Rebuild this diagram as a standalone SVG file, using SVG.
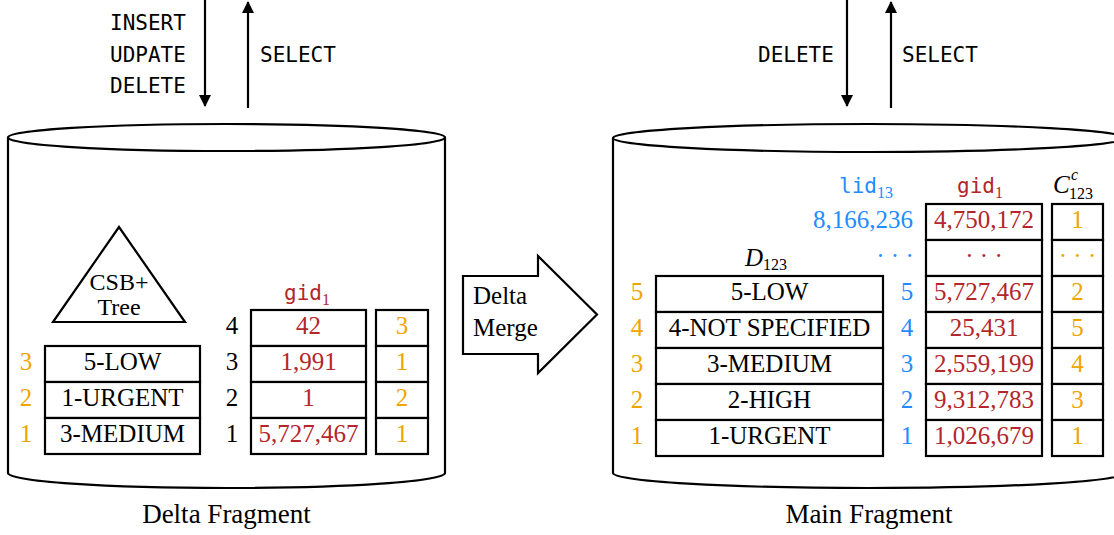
<svg xmlns="http://www.w3.org/2000/svg" width="1114" height="535" viewBox="0 0 1114 535">
<defs>
<marker id="ah" markerUnits="userSpaceOnUse" markerWidth="12" markerHeight="14" refX="11" refY="6" orient="auto">
<path d="M0,0 L12,6 L0,12 Z" fill="#000"/>
</marker>
<style>
.cyl{fill:#fff;stroke:#000;stroke-width:2.2}
.box{fill:#fff;stroke:#000;stroke-width:2.2}
.ln{stroke:#000;stroke-width:2.2;fill:none}
.mono{font-family:"DejaVu Sans Mono",monospace;font-size:21px}
.cmd{font-family:"DejaVu Sans Mono",monospace;font-size:21px;fill:#000}
.sr{font-family:"Liberation Serif",serif;font-size:25px;fill:#000}
.tr{font-family:"Liberation Serif",serif;font-size:24px;fill:#000}
.c{text-anchor:middle}
.e{text-anchor:end}
.sub{font-family:"Liberation Serif",serif;font-size:16px}
.it{font-style:italic}
.red{fill:#b3262b}
.blue{fill:#1f8cff}
.org{fill:#f0a500}
.lbl{font-family:"Liberation Serif",serif;font-size:27px;fill:#000;text-anchor:middle}
</style>
</defs>

<g id="connectors">
<line class="ln" x1="205" y1="0" x2="205" y2="106" marker-end="url(#ah)"/>
<line class="ln" x1="248" y1="108" x2="248" y2="2" marker-end="url(#ah)"/>
<line class="ln" x1="847" y1="0" x2="847" y2="106" marker-end="url(#ah)"/>
<line class="ln" x1="891" y1="108" x2="891" y2="2" marker-end="url(#ah)"/>
<text class="cmd" x="110" y="30">INSERT</text>
<text class="cmd" x="110" y="62">UDPATE</text>
<text class="cmd" x="110" y="93">DELETE</text>
<text class="cmd" x="260" y="62">SELECT</text>
<text class="cmd" x="758" y="62">DELETE</text>
<text class="cmd" x="902" y="62">SELECT</text>
</g>

<g id="delta-fragment">
<path class="cyl" d="M8,137.5 V473 A218.5,15 0 0 0 445,473 V137.5"/>
<ellipse class="cyl" cx="226.5" cy="137.5" rx="218.5" ry="13.5"/>
<text class="lbl" x="226.5" y="523">Delta Fragment</text>
</g>

<g id="csb-tree">
<polygon class="box" points="119,227 53,322 185,322"/>
<text class="tr c" x="119" y="290">CSB+</text>
<text class="tr c" x="119" y="315">Tree</text>
</g>

<g id="delta-dict">
<rect class="box" x="45" y="346" width="155" height="36"/>
<rect class="box" x="45" y="382" width="155" height="36"/>
<rect class="box" x="45" y="418" width="155" height="36"/>
<text class="sr c" x="122.5" y="370">5-LOW</text>
<text class="sr c" x="122.5" y="406">1-URGENT</text>
<text class="sr c" x="122.5" y="442">3-MEDIUM</text>
<text class="sr c org" x="26" y="370">3</text>
<text class="sr c org" x="26" y="406">2</text>
<text class="sr c org" x="26" y="442">1</text>
</g>

<g id="delta-gid">
<text class="mono red" x="284" y="300">gid<tspan class="sub" dy="5">1</tspan></text>
<rect class="box" x="251" y="310" width="115" height="36"/>
<rect class="box" x="251" y="346" width="115" height="36"/>
<rect class="box" x="251" y="382" width="115" height="36"/>
<rect class="box" x="251" y="418" width="115" height="36"/>
<text class="sr c red" x="308.5" y="334">42</text>
<text class="sr c red" x="308.5" y="370">1,991</text>
<text class="sr c red" x="308.5" y="406">1</text>
<text class="sr c red" x="308.5" y="442">5,727,467</text>
<text class="sr c" x="232" y="334">4</text>
<text class="sr c" x="232" y="370">3</text>
<text class="sr c" x="232" y="406">2</text>
<text class="sr c" x="232" y="442">1</text>
</g>

<g id="delta-codes">
<rect class="box" x="376" y="310" width="52" height="36"/>
<rect class="box" x="376" y="346" width="52" height="36"/>
<rect class="box" x="376" y="382" width="52" height="36"/>
<rect class="box" x="376" y="418" width="52" height="36"/>
<text class="sr c org" x="402" y="334">3</text>
<text class="sr c org" x="402" y="370">1</text>
<text class="sr c org" x="402" y="406">2</text>
<text class="sr c org" x="402" y="442">1</text>
</g>

<g id="delta-merge">
<polygon class="box" points="463,276 538,276 538,256 597,314.5 538,373 538,354 463,354"/>
<text class="sr" x="473" y="304">Delta</text>
<text class="sr" x="473" y="336">Merge</text>
</g>

<g id="main-fragment">
<path class="cyl" d="M613,138 V473 A256,15 0 0 0 1125,473 V138"/>
<ellipse class="cyl" cx="869" cy="138" rx="256" ry="14"/>
<text class="lbl" x="869" y="523">Main Fragment</text>
</g>

<g id="main-dict">
<text class="sr it" x="745" y="266">D<tspan class="sub" font-style="normal" dy="4">123</tspan></text>
<rect class="box" x="656" y="276" width="227" height="36"/>
<rect class="box" x="656" y="312" width="227" height="36"/>
<rect class="box" x="656" y="348" width="227" height="36"/>
<rect class="box" x="656" y="384" width="227" height="36"/>
<rect class="box" x="656" y="420" width="227" height="36"/>
<text class="sr c" x="769.5" y="300">5-LOW</text>
<text class="sr c" x="769.5" y="336">4-NOT SPECIFIED</text>
<text class="sr c" x="769.5" y="372">3-MEDIUM</text>
<text class="sr c" x="769.5" y="408">2-HIGH</text>
<text class="sr c" x="769.5" y="444">1-URGENT</text>
<text class="sr c org" x="637" y="300">5</text>
<text class="sr c org" x="637" y="336">4</text>
<text class="sr c org" x="637" y="372">3</text>
<text class="sr c org" x="637" y="408">2</text>
<text class="sr c org" x="637" y="444">1</text>
</g>

<g id="main-lid">
<text class="mono blue" x="839" y="193">lid<tspan class="sub" dy="5">13</tspan></text>
<text class="sr e blue" x="913" y="228">8,166,236</text>
<text class="sr c blue" x="895" y="264">· · ·</text>
<text class="sr c blue" x="907" y="300">5</text>
<text class="sr c blue" x="907" y="336">4</text>
<text class="sr c blue" x="907" y="372">3</text>
<text class="sr c blue" x="907" y="408">2</text>
<text class="sr c blue" x="907" y="444">1</text>
</g>

<g id="main-gid">
<text class="mono red" x="957" y="193">gid<tspan class="sub" dy="5">1</tspan></text>
<rect class="box" x="926" y="204" width="116" height="36"/>
<rect class="box" x="926" y="240" width="116" height="36"/>
<rect class="box" x="926" y="276" width="116" height="36"/>
<rect class="box" x="926" y="312" width="116" height="36"/>
<rect class="box" x="926" y="348" width="116" height="36"/>
<rect class="box" x="926" y="384" width="116" height="36"/>
<rect class="box" x="926" y="420" width="116" height="36"/>
<text class="sr c red" x="984" y="228">4,750,172</text>
<text class="sr c red" x="984" y="264">· · ·</text>
<text class="sr c red" x="984" y="300">5,727,467</text>
<text class="sr c red" x="984" y="336">25,431</text>
<text class="sr c red" x="984" y="372">2,559,199</text>
<text class="sr c red" x="984" y="408">9,312,783</text>
<text class="sr c red" x="984" y="444">1,026,679</text>
</g>

<g id="main-codes">
<text class="sr it" x="1053" y="193">C</text>
<text class="sub it" x="1071" y="180">c</text>
<text class="sub" x="1069" y="199">123</text>
<rect class="box" x="1052" y="204" width="51" height="36"/>
<rect class="box" x="1052" y="240" width="51" height="36"/>
<rect class="box" x="1052" y="276" width="51" height="36"/>
<rect class="box" x="1052" y="312" width="51" height="36"/>
<rect class="box" x="1052" y="348" width="51" height="36"/>
<rect class="box" x="1052" y="384" width="51" height="36"/>
<rect class="box" x="1052" y="420" width="51" height="36"/>
<text class="sr c org" x="1077.5" y="228">1</text>
<text class="sr c org" x="1077.5" y="264">· · ·</text>
<text class="sr c org" x="1077.5" y="300">2</text>
<text class="sr c org" x="1077.5" y="336">5</text>
<text class="sr c org" x="1077.5" y="372">4</text>
<text class="sr c org" x="1077.5" y="408">3</text>
<text class="sr c org" x="1077.5" y="444">1</text>
</g>
</svg>
